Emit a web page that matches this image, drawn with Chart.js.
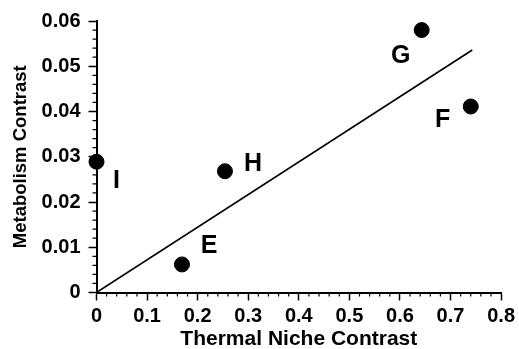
<!DOCTYPE html>
<html>
<head>
<meta charset="utf-8">
<script src="https://cdn.jsdelivr.net/npm/chart.js@4.4.1/dist/chart.umd.min.js"></script>
<style>
  html, body { margin: 0; padding: 0; background: #fff; }
  canvas { display: block; }
</style>
</head>
<body>
<canvas id="chart" width="519" height="349"></canvas>
<script>
// data
const pointNames = ["I", "E", "H", "G", "F"];
const thermalContrast = [0, 0.169, 0.254, 0.643, 0.740];
const metabolismContrast = [0.0289, 0.0062, 0.0268, 0.058, 0.0411];
const fitX = [0, 0.743];
const fitY = [0, 0.0536];
const xTicks = [0, 0.1, 0.2, 0.3, 0.4, 0.5, 0.6, 0.7, 0.8];
const yTicks = [0, 0.01, 0.02, 0.03, 0.04, 0.05, 0.06];

const FONT = "'Liberation Sans', Arial, Helvetica, sans-serif";

// where each letter sits relative to its dot (px)
const labelOffsets = {
  I: [20, 19],
  E: [27, -18],
  H: [28, -7],
  G: [-21, 26],
  F: [-28, 14],
};

const fmt = (v) => (v === 0 ? "0" : String(+v.toFixed(3)));

// small ticks between the labelled ones
const minorTicks = {
  id: "minorTicks",
  afterDraw(chart) {
    const ctx = chart.ctx;
    const x = chart.scales.x;
    const y = chart.scales.y;
    const area = chart.chartArea;
    ctx.save();
    ctx.strokeStyle = "#000";
    ctx.lineWidth = 1.2;
    ctx.beginPath();
    for (let i = 1; i < 40; i++) {
      if (i % 5 === 0) continue;
      const px = x.getPixelForValue(i * 0.02);
      ctx.moveTo(px, area.bottom);
      ctx.lineTo(px, area.bottom + 4);
    }
    for (let i = 1; i < 30; i++) {
      if (i % 5 === 0) continue;
      const py = y.getPixelForValue(i * 0.002);
      ctx.moveTo(area.left, py);
      ctx.lineTo(area.left - 4, py);
    }
    ctx.stroke();
    ctx.restore();
  },
};

const pointLetters = {
  id: "pointLetters",
  afterDatasetsDraw(chart) {
    const ctx = chart.ctx;
    const meta = chart.getDatasetMeta(1);
    ctx.save();
    ctx.font = "bold 25px " + FONT;
    ctx.fillStyle = "#000";
    ctx.textAlign = "center";
    ctx.textBaseline = "middle";
    meta.data.forEach((pt, i) => {
      const name = pointNames[i];
      const off = labelOffsets[name];
      ctx.fillText(name, pt.x + off[0], pt.y + off[1]);
    });
    ctx.restore();
  },
};

new Chart(document.getElementById("chart"), {
  type: "scatter",
  data: {
    datasets: [
      {
        type: "line",
        data: fitX.map((v, i) => ({ x: v, y: fitY[i] })),
        borderColor: "#000",
        borderWidth: 1.6,
        pointRadius: 0,
        fill: false,
      },
      {
        data: thermalContrast.map((v, i) => ({ x: v, y: metabolismContrast[i] })),
        backgroundColor: "#000",
        borderColor: "#000",
        pointRadius: 7.5,
        pointHoverRadius: 7.5,
        clip: false,
      },
    ],
  },
  options: {
    responsive: false,
    devicePixelRatio: 1,
    animation: false,
    layout: { padding: { left: 0, right: 12, top: 21, bottom: 0 } },
    plugins: {
      legend: { display: false },
      tooltip: { enabled: false },
    },
    scales: {
      x: {
        type: "linear",
        min: 0,
        max: 0.8,
        afterBuildTicks: (s) => { s.ticks = xTicks.map((v) => ({ value: v })); },
        afterFit: (s) => { s.height = 56.5; },
        grid: { drawOnChartArea: false, tickLength: 8, tickWidth: 1.5, tickColor: "#000" },
        border: { color: "#000", width: 2 },
        ticks: {
          color: "#000",
          padding: 4,
          maxRotation: 0,
          font: { family: FONT, size: 20, weight: "bold" },
          callback: (v) => fmt(v),
        },
        title: {
          display: true,
          text: "Thermal Niche Contrast",
          color: "#000",
          font: { family: FONT, size: 21, weight: "bold" },
          padding: { top: 0, bottom: -3 },
        },
      },
      y: {
        type: "linear",
        min: 0,
        max: 0.06,
        afterBuildTicks: (s) => { s.ticks = yTicks.map((v) => ({ value: v })); },
        afterFit: (s) => { s.width = 96.5; },
        grid: { drawOnChartArea: false, tickLength: 8, tickWidth: 1.5, tickColor: "#000" },
        border: { color: "#000", width: 2 },
        ticks: {
          color: "#000",
          padding: 8,
          font: { family: FONT, size: 20, weight: "bold" },
          callback: (v) => fmt(v),
        },
        title: {
          display: true,
          text: "Metabolism Contrast",
          color: "#000",
          font: { family: FONT, size: 18.5, weight: "bold" },
          padding: { top: 10, bottom: 0 },
        },
      },
    },
  },
  plugins: [minorTicks, pointLetters],
});
</script>
</body>
</html>
